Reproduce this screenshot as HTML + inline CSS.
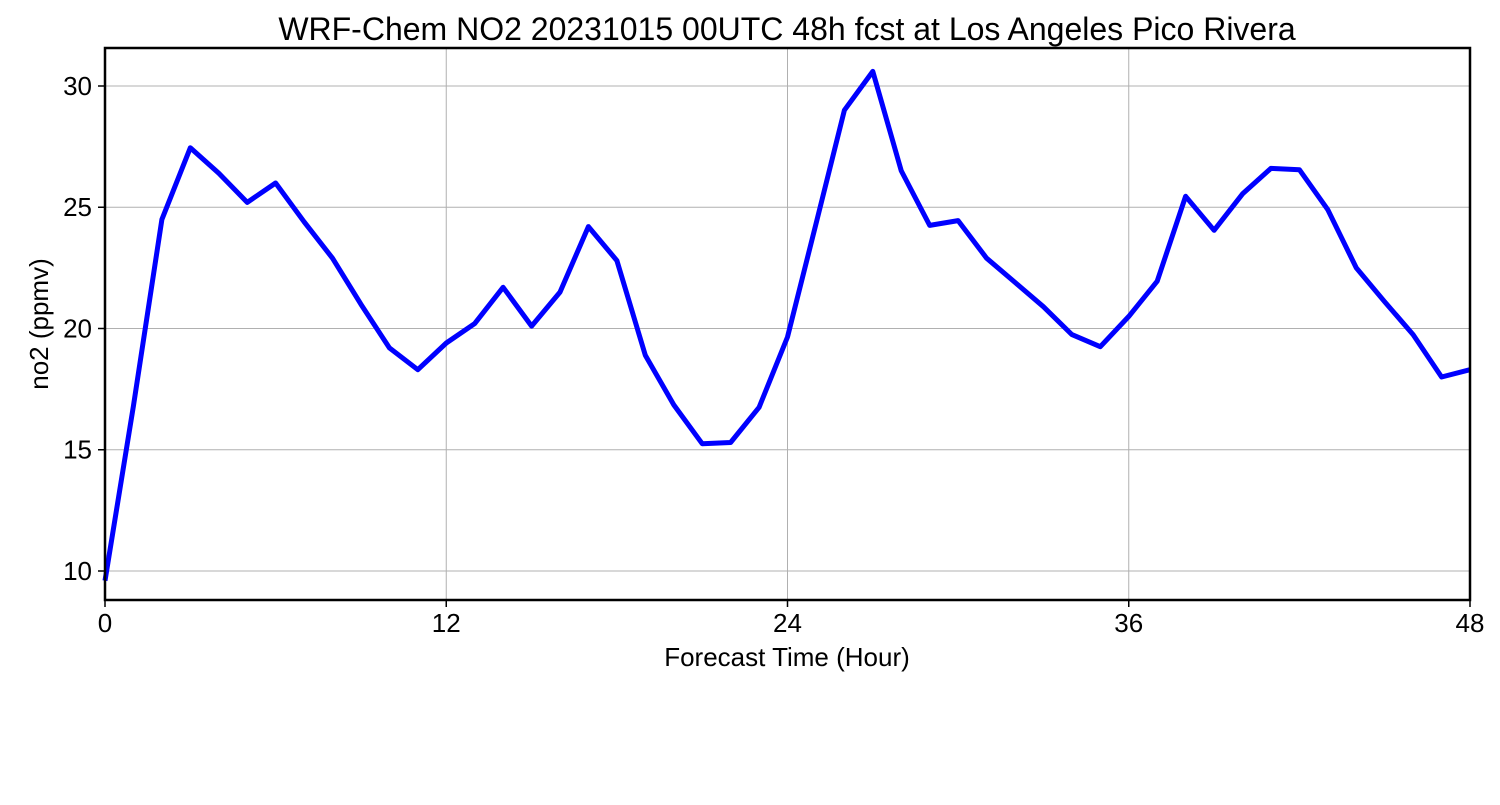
<!DOCTYPE html>
<html><head><meta charset="utf-8"><style>
body{margin:0;background:#fff;}
svg text{font-family:"Liberation Sans","DejaVu Sans",sans-serif;fill:#000;}
</style></head><body>
<svg id="chart" width="1500" height="800" xmlns="http://www.w3.org/2000/svg">
<rect width="1500" height="800" fill="#fff"/>
<text x="787" y="40" font-size="32" text-anchor="middle">WRF-Chem NO2  20231015 00UTC 48h fcst at Los Angeles Pico Rivera</text>
<g id="grid"></g>
<g id="ticks"></g>
<path id="line" fill="none" stroke="#0000ff" stroke-width="5" stroke-linejoin="round"/>
<rect x="105" y="48" width="1365" height="552" fill="none" stroke="#000" stroke-width="2.5"/>
<text x="787" y="666" font-size="26" text-anchor="middle">Forecast Time (Hour)</text>
<text transform="translate(48,324) rotate(-90)" font-size="26" text-anchor="middle">no2  (ppmv)</text>
</svg>
<script>
const hours=[0,1,2,3,4,5,6,7,8,9,10,11,12,13,14,15,16,17,18,19,20,21,22,23,24,25,26,27,28,29,30,31,32,33,34,35,36,37,38,39,40,41,42,43,44,45,46,47,48];
const no2=[9.6,16.8,24.5,27.45,26.4,25.2,26.0,24.4,22.9,21.0,19.2,18.3,19.4,20.2,21.7,20.1,21.5,24.2,22.8,18.9,16.85,15.25,15.3,16.75,19.65,24.3,29.0,30.6,26.5,24.25,24.45,22.9,21.9,20.9,19.75,19.25,20.5,21.95,25.45,24.05,25.55,26.6,26.55,24.9,22.5,21.1,19.75,18.0,18.3];
const xTicks=[0,12,24,36,48];
const yTicks=[10,15,20,25,30];
const X0=105,X1=1470,Y0=600,Y1=48,xmin=0,xmax=48,ymin=8.804,ymax=31.567;
const sx=v=>X0+(v-xmin)/(xmax-xmin)*(X1-X0);
const sy=v=>Y0-(v-ymin)/(ymax-ymin)*(Y0-Y1);
const NS="http://www.w3.org/2000/svg";
const grid=document.getElementById('grid'),ticks=document.getElementById('ticks');
function mk(tag,attrs,parent){const e=document.createElementNS(NS,tag);for(const k in attrs)e.setAttribute(k,attrs[k]);parent.appendChild(e);return e;}
xTicks.forEach(t=>{const x=sx(t);
 const g=mk('line',{x1:x,x2:x,y1:Y1,y2:Y0,stroke:'#b0b0b0','stroke-width':1},grid);
 
 
 const tk=mk('line',{x1:x,x2:x,y1:Y0,y2:Y0+7,stroke:'#000','stroke-width':1.5},ticks);
 
 
 const tx=mk('text',{x:x,y:632,'font-size':26,'text-anchor':'middle'},ticks);tx.textContent=t;
 
 
});
yTicks.forEach(t=>{const y=sy(t);
 const g=mk('line',{x1:X0,x2:X1,y1:y,y2:y,stroke:'#b0b0b0','stroke-width':1},grid);
 
 
 const tk=mk('line',{x1:X0-7,x2:X0,y1:y,y2:y,stroke:'#000','stroke-width':1.5},ticks);
 
 
 const tx=mk('text',{x:92,y:y+9,'font-size':26,'text-anchor':'end'},ticks);tx.textContent=t;
 
 
});
document.getElementById('line').setAttribute('d',hours.map((h,i)=>(i?'L':'M')+sx(h).toFixed(1)+','+sy(no2[i]).toFixed(1)).join(''));
</script>
</body></html>
